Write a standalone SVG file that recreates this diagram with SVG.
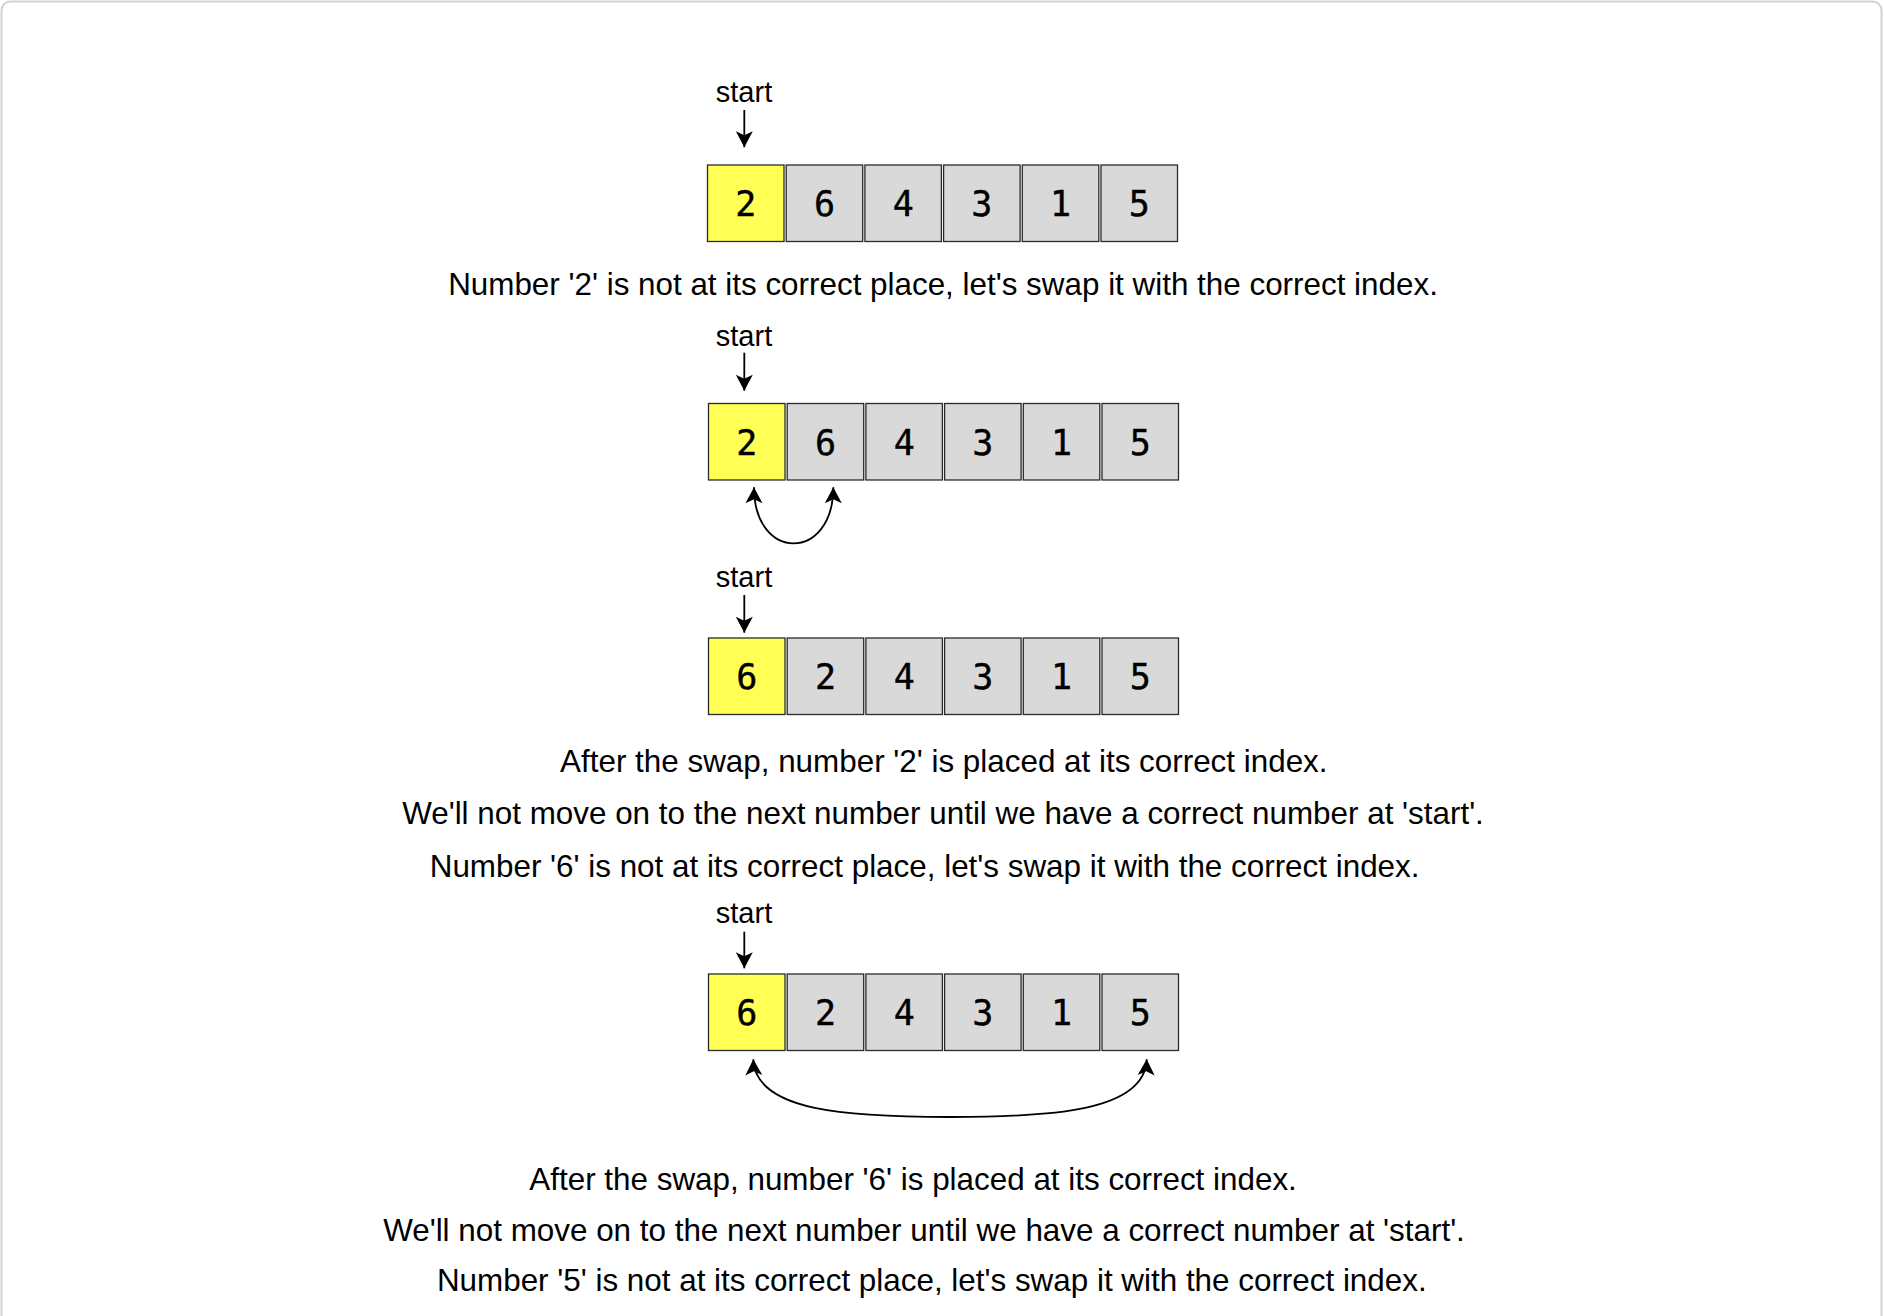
<svg xmlns="http://www.w3.org/2000/svg" width="1884" height="1316" viewBox="0 0 1884 1316">
<style>
.cell{fill:#d9d9d9;stroke:#2b2b2b;stroke-width:1.3}
.cur{fill:#ffff55;stroke:#2b2b2b;stroke-width:1.3}
.num{font-family:"DejaVu Sans Mono",monospace;font-size:35px;fill:#000;stroke:#000;stroke-width:0.4;text-anchor:middle}
.lbl{font-family:"Liberation Sans",Arial,sans-serif;font-size:29px;fill:#000;text-anchor:middle}
.cap{font-family:"Liberation Sans",Arial,sans-serif;font-size:31.4px;fill:#000;text-anchor:middle}
.arr{fill:none;stroke:#000;stroke-width:1.8}
</style>
<defs>
<marker id="ah" markerUnits="userSpaceOnUse" viewBox="-17 -9 18 18" refX="0" refY="0" markerWidth="18" markerHeight="18" orient="auto-start-reverse">
<path d="M0,0 L-16,-8.5 L-12,0 L-16,8.5 Z" fill="#000"/>
</marker>
</defs>
<rect x="1.5" y="1.5" width="1880" height="1350" rx="9" fill="#fff" stroke="#d2d2d6" stroke-width="2"/>

<g id="row1">
<rect class="cur" x="707.5" y="165" width="76.5" height="76.5"/>
<rect class="cell" x="786.2" y="165" width="76.5" height="76.5"/>
<rect class="cell" x="864.9" y="165" width="76.5" height="76.5"/>
<rect class="cell" x="943.6" y="165" width="76.5" height="76.5"/>
<rect class="cell" x="1022.3" y="165" width="76.5" height="76.5"/>
<rect class="cell" x="1101" y="165" width="76.5" height="76.5"/>
<text class="num" x="745.8" y="216">2</text>
<text class="num" x="824.5" y="216">6</text>
<text class="num" x="903.2" y="216">4</text>
<text class="num" x="981.9" y="216">3</text>
<text class="num" x="1060.6" y="216">1</text>
<text class="num" x="1139.3" y="216">5</text>
</g>
<g id="row2">
<rect class="cur" x="708.5" y="403.5" width="76.5" height="76.5"/>
<rect class="cell" x="787.2" y="403.5" width="76.5" height="76.5"/>
<rect class="cell" x="865.9" y="403.5" width="76.5" height="76.5"/>
<rect class="cell" x="944.6" y="403.5" width="76.5" height="76.5"/>
<rect class="cell" x="1023.3" y="403.5" width="76.5" height="76.5"/>
<rect class="cell" x="1102" y="403.5" width="76.5" height="76.5"/>
<text class="num" x="746.8" y="454.5">2</text>
<text class="num" x="825.5" y="454.5">6</text>
<text class="num" x="904.2" y="454.5">4</text>
<text class="num" x="982.9" y="454.5">3</text>
<text class="num" x="1061.6" y="454.5">1</text>
<text class="num" x="1140.3" y="454.5">5</text>
</g>
<g id="row3">
<rect class="cur" x="708.5" y="638" width="76.5" height="76.5"/>
<rect class="cell" x="787.2" y="638" width="76.5" height="76.5"/>
<rect class="cell" x="865.9" y="638" width="76.5" height="76.5"/>
<rect class="cell" x="944.6" y="638" width="76.5" height="76.5"/>
<rect class="cell" x="1023.3" y="638" width="76.5" height="76.5"/>
<rect class="cell" x="1102" y="638" width="76.5" height="76.5"/>
<text class="num" x="746.8" y="689">6</text>
<text class="num" x="825.5" y="689">2</text>
<text class="num" x="904.2" y="689">4</text>
<text class="num" x="982.9" y="689">3</text>
<text class="num" x="1061.6" y="689">1</text>
<text class="num" x="1140.3" y="689">5</text>
</g>
<g id="row4">
<rect class="cur" x="708.5" y="974" width="76.5" height="76.5"/>
<rect class="cell" x="787.2" y="974" width="76.5" height="76.5"/>
<rect class="cell" x="865.9" y="974" width="76.5" height="76.5"/>
<rect class="cell" x="944.6" y="974" width="76.5" height="76.5"/>
<rect class="cell" x="1023.3" y="974" width="76.5" height="76.5"/>
<rect class="cell" x="1102" y="974" width="76.5" height="76.5"/>
<text class="num" x="746.8" y="1025">6</text>
<text class="num" x="825.5" y="1025">2</text>
<text class="num" x="904.2" y="1025">4</text>
<text class="num" x="982.9" y="1025">3</text>
<text class="num" x="1061.6" y="1025">1</text>
<text class="num" x="1140.3" y="1025">5</text>
</g>

<g id="labels">
<text class="lbl" x="744" y="101.7">start</text>
<text class="lbl" x="744" y="346">start</text>
<text class="lbl" x="744" y="587.3">start</text>
<text class="lbl" x="744" y="923.3">start</text>
<text class="cap" x="943" y="294.7">Number '2' is not at its correct place, let's swap it with the correct index.</text>
<text class="cap" x="943.8" y="771.6">After the swap, number '2' is placed at its correct index.</text>
<text class="cap" x="943" y="824.4">We'll not move on to the next number until we have a correct number at 'start'.</text>
<text class="cap" x="924.6" y="877.3">Number '6' is not at its correct place, let's swap it with the correct index.</text>
<text class="cap" x="913.1" y="1189.7">After the swap, number '6' is placed at its correct index.</text>
<text class="cap" x="924" y="1241.3">We'll not move on to the next number until we have a correct number at 'start'.</text>
<text class="cap" x="931.8" y="1290.6">Number '5' is not at its correct place, let's swap it with the correct index.</text>
</g>

<g id="connectors">
<path class="arr" d="M744.3,110 L744.3,147.3" marker-end="url(#ah)"/>
<path class="arr" d="M744.3,352.7 L744.3,390.7" marker-end="url(#ah)"/>
<path class="arr" d="M744.3,595 L744.3,632.7" marker-end="url(#ah)"/>
<path class="arr" d="M744.3,931.7 L744.3,968.3" marker-end="url(#ah)"/>
<path class="arr" d="M754,487.3 C754,562 833.3,562 833.3,487.3" marker-start="url(#ah)" marker-end="url(#ah)"/>
<path class="arr" d="M753.3,1059.3 C755,1112 850,1117 950,1117 C1050,1117 1145,1112 1146.7,1059.3" marker-start="url(#ah)" marker-end="url(#ah)"/>
</g>
</svg>
